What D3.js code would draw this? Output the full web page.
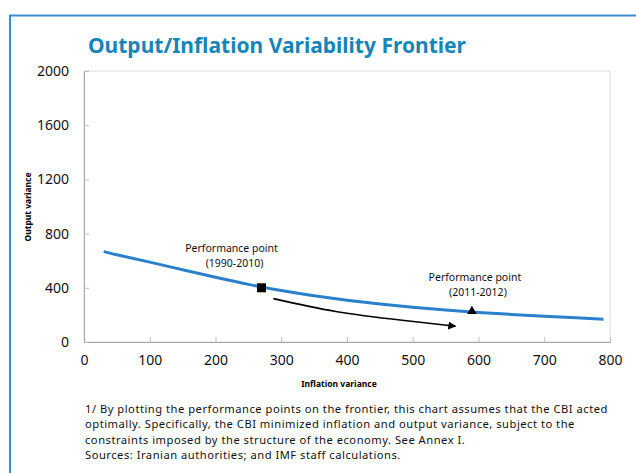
<!DOCTYPE html>
<html>
<head>
<meta charset="utf-8">
<script src="https://cdn.jsdelivr.net/npm/d3@7"></script>
<style>
  body { margin: 0; background: #fff; }
  text { font-family: "Noto Sans", "Open Sans", sans-serif; }
</style>
</head>
<body>
<div id="chart"></div>
<script>
// frontier curve
const inflationVar = [30, 50, 100, 150, 200, 250, 300, 350, 400, 450, 500, 550, 600, 650, 700, 750, 790];
const outputVar = [667, 643, 590, 533, 478, 424, 378, 340, 308, 280, 256, 236, 218, 203, 190, 178, 168];

// performance points
const pointNames = ['Performance point', 'Performance point'];
const pointPeriods = ['(1990-2010)', '(2011-2012)'];
const pointX = [270, 590];
const pointY = [400, 220];

// arrow between the two points
const arrowX = [288, 383, 484, 565];
const arrowY = [320, 225, 160, 116];

const xTicks = [0, 100, 200, 300, 400, 500, 600, 700, 800];
const yTicks = [0, 400, 800, 1200, 1600, 2000];

const footnotes = [
  '1/ By plotting the performance points on the frontier, this chart assumes that the CBI acted',
  'optimally. Specifically, the CBI minimized inflation and output variance, subject to the',
  'constraints imposed by the structure of the economy. See Annex I.',
  'Sources: Iranian authorities; and IMF staff calculations.'
];

const width = 636;
const height = 473;
const margin = {top: 71, right: 26, bottom: 131, left: 84};

const svg = d3.select('#chart')
  .append('svg')
  .attr('width', width)
  .attr('height', height);

// blue panel border
svg.append('path')
  .attr('d', 'M10,473 L10,15.5 L636,15.5')
  .attr('fill', 'none')
  .attr('stroke', '#3a8ccf')
  .attr('stroke-width', 2);

svg.append('text')
  .attr('x', 88)
  .attr('y', 53)
  .attr('fill', '#1786b6')
  .attr('font-size', 21)
  .attr('font-weight', 'bold')
  .text('Output/Inflation Variability Frontier');

const x = d3.scaleLinear()
  .domain([0, 800])
  .range([margin.left, width - margin.right]);

const y = d3.scaleLinear()
  .domain([0, 2000])
  .range([height - margin.bottom, margin.top]);

// plot frame
svg.append('rect')
  .attr('x', x(0))
  .attr('y', y(2000))
  .attr('width', x(800) - x(0))
  .attr('height', y(0) - y(2000))
  .attr('fill', 'none')
  .attr('stroke', '#d9d9d9');

const xAxis = svg.append('g')
  .attr('transform', 'translate(0,' + y(0) + ')')
  .call(d3.axisBottom(x).tickValues(xTicks).tickFormat(d3.format('d'))
    .tickSizeInner(-5).tickSizeOuter(0).tickPadding(13));

const yAxis = svg.append('g')
  .attr('transform', 'translate(' + x(0) + ',0)')
  .call(d3.axisLeft(y).tickValues(yTicks).tickFormat(d3.format('d'))
    .tickSizeInner(-5).tickSizeOuter(0).tickPadding(15));

[xAxis, yAxis].forEach(g => {
  g.select('.domain').attr('stroke', '#a6a6a6');
  g.selectAll('.tick line').attr('stroke', '#bfbfbf');
  g.selectAll('.tick text')
    .attr('fill', '#111')
    .attr('font-size', 14)
    .attr('font-family', '"Noto Sans", sans-serif');
});

svg.append('text')
  .attr('transform', 'translate(31,' + 207 + ') rotate(-90)')
  .attr('text-anchor', 'middle')
  .attr('font-size', 8.5)
  .attr('font-weight', 'bold')
  .text('Output variance');

svg.append('text')
  .attr('x', 339)
  .attr('y', 387)
  .attr('text-anchor', 'middle')
  .attr('font-size', 8.5)
  .attr('font-weight', 'bold')
  .text('Inflation variance');

const frontier = inflationVar.map((v, i) => ({x: v, y: outputVar[i]}));

const line = d3.line()
  .x(d => x(d.x))
  .y(d => y(d.y))
  .curve(d3.curveBasis);

svg.append('path')
  .datum(frontier)
  .attr('fill', 'none')
  .attr('stroke', '#2a80cb')
  .attr('stroke-width', 3)
  .attr('d', line);

// arrow
svg.append('defs').append('marker')
  .attr('id', 'arrowhead')
  .attr('viewBox', '0 0 10 10')
  .attr('refX', 9)
  .attr('refY', 5)
  .attr('markerWidth', 5)
  .attr('markerHeight', 5)
  .attr('orient', 'auto')
  .append('path')
  .attr('d', 'M0,0 L10,5 L0,10 z')
  .attr('fill', '#000');

const arrowPts = arrowX.map((v, i) => ({x: v, y: arrowY[i]}));
svg.append('path')
  .datum(arrowPts)
  .attr('fill', 'none')
  .attr('stroke', '#000')
  .attr('stroke-width', 1.6)
  .attr('marker-end', 'url(#arrowhead)')
  .attr('d', d3.line().x(d => x(d.x)).y(d => y(d.y)).curve(d3.curveNatural));

// markers
svg.append('path')
  .attr('transform', 'translate(' + x(pointX[0]) + ',' + y(pointY[0]) + ')')
  .attr('d', d3.symbol(d3.symbolSquare, 81)())
  .attr('fill', '#000');

svg.append('path')
  .attr('transform', 'translate(' + x(pointX[1]) + ',' + (y(pointY[1]) - 1) + ')')
  .attr('d', d3.symbol(d3.symbolTriangle, 40)())
  .attr('fill', '#000');

// annotations
const labelDx = [-30, 3];
const labelDy = [-36, -31];
pointX.forEach((px, i) => {
  const t = svg.append('text')
    .attr('text-anchor', 'middle')
    .attr('font-size', 10.5)
    .attr('fill', '#111');
  t.append('tspan')
    .attr('x', x(px) + labelDx[i])
    .attr('y', y(pointY[i]) + labelDy[i])
    .text(pointNames[i]);
  t.append('tspan')
    .attr('x', x(px) + labelDx[i] + 3)
    .attr('y', y(pointY[i]) + labelDy[i] + 15)
    .text(pointPeriods[i]);
});

svg.append('g')
  .selectAll('text')
  .data(footnotes)
  .enter().append('text')
    .attr('x', 85)
    .attr('y', (d, i) => 413 + i * 15.3)
    .attr('font-size', 11.2)
    .attr('letter-spacing', 0.5)
    .attr('fill', '#111')
    .text(d => d);
</script>
</body>
</html>
